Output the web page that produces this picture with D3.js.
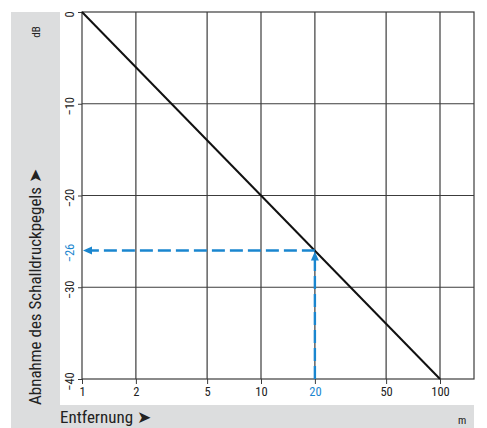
<!DOCTYPE html>
<html>
<head>
<meta charset="utf-8">
<script src="https://cdn.jsdelivr.net/npm/d3@7"></script>
<style>
  body { margin: 0; background: #fff; }
  svg text { font-family: "Liberation Sans Narrow", "Roboto Condensed", "Liberation Sans", sans-serif; }
</style>
</head>
<body>
<svg width="487" height="428"></svg>
<script>
"use strict";

// distance in m (log axis) and level drop in dB
var xTicks = [1, 2, 5, 10, 20, 50, 100],
    yTicks = [0, -10, -20, -30, -40],
    lineDist = [1, 100],
    lineDb = [0, -40],
    markDist = 20,
    markDb = -26;

var svg = d3.select("svg"),
    pLeft = 82, pTop = 12, pRight = 474, pBottom = 379,
    blue = "#1a86cf",
    grid = "#3c3c3c";

var x = d3.scaleLog().domain([1, 100]).range([pLeft, 440]);
var y = d3.scaleLinear().domain([0, -40]).range([pTop, pBottom]);

// grey label bands
svg.append("rect").attr("x", 11).attr("y", 12).attr("width", 49).attr("height", 416).attr("fill", "#dcddde");
svg.append("rect").attr("x", 11).attr("y", 405).attr("width", 463).attr("height", 23).attr("fill", "#dcddde");

// grid
svg.append("g").selectAll("line")
    .data(xTicks.slice(1))
    .enter().append("line")
    .attr("x1", d => x(d)).attr("x2", d => x(d))
    .attr("y1", pTop).attr("y2", pBottom)
    .attr("stroke", grid).attr("stroke-width", 1.2);

svg.append("g").selectAll("line")
    .data(yTicks.slice(1, -1))
    .enter().append("line")
    .attr("x1", pLeft).attr("x2", pRight)
    .attr("y1", d => y(d)).attr("y2", d => y(d))
    .attr("stroke", grid).attr("stroke-width", 1.2);

svg.append("rect")
    .attr("x", pLeft).attr("y", pTop)
    .attr("width", pRight - pLeft).attr("height", pBottom - pTop)
    .attr("fill", "none").attr("stroke", grid).attr("stroke-width", 1.2);

// axes
var xAxis = svg.append("g")
    .attr("transform", "translate(0," + pBottom + ")")
    .call(d3.axisBottom(x).tickValues(xTicks).tickFormat(d3.format("d")).tickSize(5).tickPadding(3));
xAxis.select(".domain").remove();
xAxis.selectAll("line").attr("stroke", grid);
xAxis.selectAll("text").attr("font-size", 12.5)
    .attr("fill", d => d === markDist ? blue : "#222");

var yAxis = svg.append("g")
    .attr("transform", "translate(" + pLeft + ",0)")
    .call(d3.axisLeft(y).tickValues(yTicks.concat([markDb])).tickSize(4).tickPadding(0).tickFormat(d3.format("d")));
yAxis.select(".domain").remove();
yAxis.selectAll("line").attr("stroke", d => d === markDb ? "none" : grid);
yAxis.selectAll("text")
    .attr("font-size", 12.5)
    .attr("fill", d => d === markDb ? blue : "#222")
    .attr("x", null).attr("dy", null)
    .attr("text-anchor", "middle")
    .attr("transform", "translate(-8,2) rotate(-90)");

// level line
svg.append("line")
    .attr("x1", x(lineDist[0])).attr("y1", y(lineDb[0]))
    .attr("x2", x(lineDist[1])).attr("y2", y(lineDb[1]))
    .attr("stroke", "#111").attr("stroke-width", 2);

// reading at 20 m
var mx = x(markDist), my = y(markDb);
svg.append("line")
    .attr("x1", mx).attr("x2", mx)
    .attr("y1", pBottom).attr("y2", my + 8)
    .attr("stroke", blue).attr("stroke-width", 2.4).attr("stroke-dasharray", "13,5");
svg.append("line")
    .attr("x1", mx).attr("x2", pLeft + 8)
    .attr("y1", my).attr("y2", my)
    .attr("stroke", blue).attr("stroke-width", 2.4).attr("stroke-dasharray", "13,5");

svg.append("path")
    .attr("d", `M ${pLeft + 1} ${my} L ${pLeft + 10} ${my - 4} L ${pLeft + 10} ${my + 4} Z`)
    .attr("fill", blue);
svg.append("path")
    .attr("d", `M ${mx} ${my + 1} L ${mx - 4} ${my + 10} L ${mx + 4} ${my + 10} Z`)
    .attr("fill", blue);

// titles
svg.append("text")
    .attr("transform", "translate(41,405) rotate(-90)")
    .attr("font-size", 17).attr("fill", "#222")
    .text("Abnahme des Schalldruckpegels ➤");

svg.append("text")
    .attr("transform", "translate(40,32) rotate(-90)")
    .attr("text-anchor", "middle")
    .attr("font-size", 11).attr("fill", "#222")
    .text("dB");

svg.append("text")
    .attr("x", 60).attr("y", 423)
    .attr("font-size", 17).attr("fill", "#222")
    .text("Entfernung ➤");

svg.append("text")
    .attr("x", 458).attr("y", 424)
    .attr("font-size", 11).attr("fill", "#222")
    .text("m");
</script>
</body>
</html>
